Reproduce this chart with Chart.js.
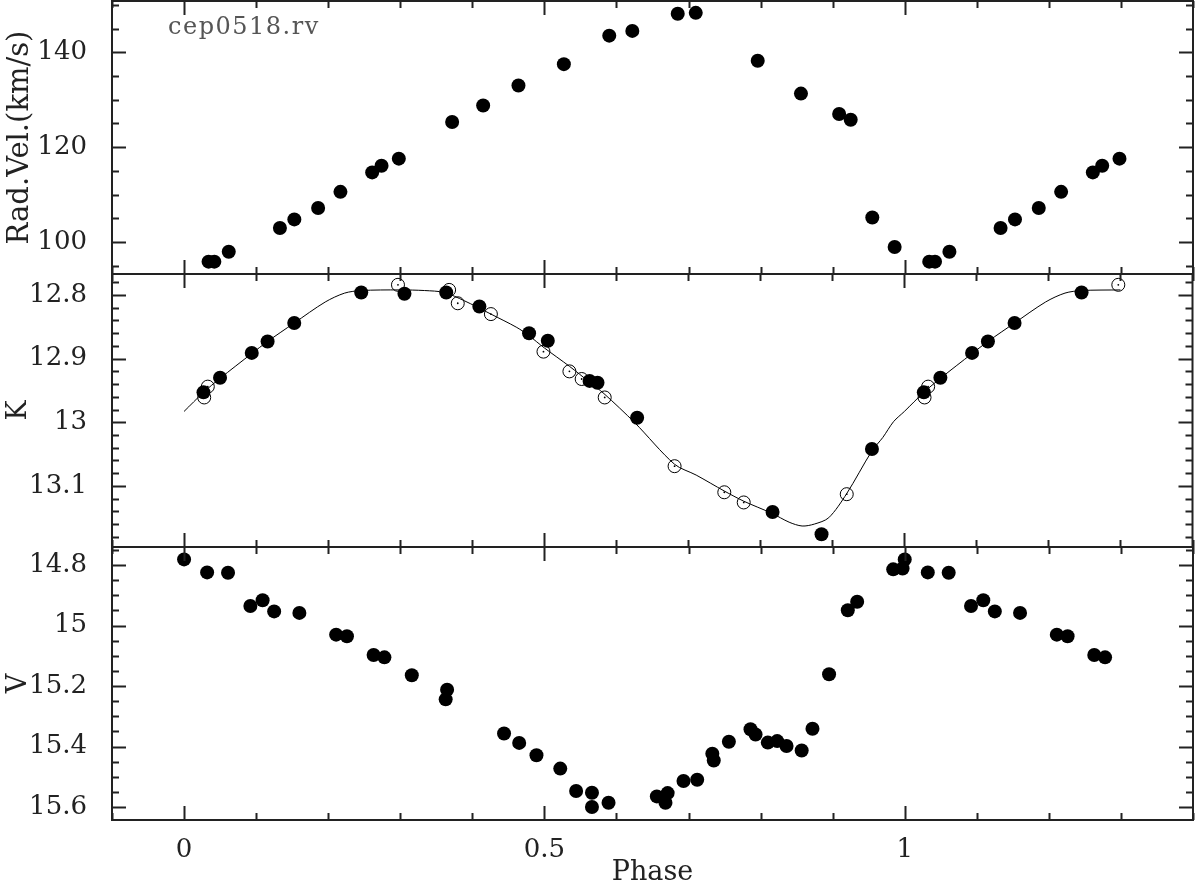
<!DOCTYPE html>
<html>
<head>
<meta charset="utf-8">
<script src="https://cdn.jsdelivr.net/npm/chart.js@4.4.1/dist/chart.umd.min.js"></script>
<style>
  body { margin: 0; background: #fff; }
  #wrap { position: relative; width: 1200px; height: 881px; overflow: hidden; }
  #wrap canvas { position: absolute; left: 0; top: 0; }
  #wrap #rvChart { top: -20px; }
</style>
</head>
<body>
<div id="wrap">
  <canvas id="rvChart" width="1200" height="881"></canvas>
  <canvas id="kChart" width="1200" height="881"></canvas>
  <canvas id="vChart" width="1200" height="881"></canvas>
</div>
<script>
// radial velocity (km/s)
const rvPhase = [0.034, 0.042, 0.062, 0.133, 0.153, 0.186, 0.217, 0.261, 0.274, 0.298,
  0.372, 0.415, 0.464, 0.527, 0.590, 0.622, 0.685, 0.710, 0.796, 0.856, 0.909, 0.925, 0.955, 0.986];
const rvValue = [95.9, 95.9, 98.0, 103.0, 104.8, 107.2, 110.6, 114.7, 116.1, 117.6,
  125.3, 128.8, 133.0, 137.5, 143.5, 144.5, 148.1, 148.3, 138.2, 131.3, 127.0, 125.8, 105.2, 99.0];

// K band, filled points
const kPhase = [0.027, 0.050, 0.094, 0.116, 0.153, 0.246, 0.306, 0.364, 0.410, 0.479,
  0.505, 0.563, 0.574, 0.629, 0.817, 0.885, 0.955];
const kValue = [12.953, 12.930, 12.891, 12.873, 12.844, 12.796, 12.798, 12.796, 12.818, 12.860,
  12.872, 12.935, 12.938, 12.993, 13.141, 13.176, 13.042];

// K band, open points
const kOpenPhase = [0.028, 0.033, 0.297, 0.368, 0.380, 0.426, 0.499, 0.535, 0.552, 0.584,
  0.681, 0.750, 0.777, 0.920];
const kOpenValue = [12.961, 12.944, 12.784, 12.792, 12.813, 12.830, 12.889, 12.920, 12.932, 12.961,
  13.069, 13.110, 13.126, 13.113];

// K band template curve
const kFitPhase = [0.000, 0.027, 0.050, 0.094, 0.116, 0.153, 0.196, 0.223, 0.246, 0.300,
  0.334, 0.361, 0.389, 0.426, 0.462, 0.479, 0.500, 0.535, 0.563, 0.583, 0.626, 0.681, 0.711,
  0.750, 0.777, 0.816, 0.840, 0.858, 0.875, 0.895, 0.920, 0.955, 0.970, 0.985];
const kFitValue = [12.983, 12.953, 12.931, 12.892, 12.873, 12.844, 12.811, 12.797, 12.793, 12.792,
  12.793, 12.796, 12.809, 12.830, 12.851, 12.864, 12.883, 12.912, 12.937, 12.955, 13.001, 13.066, 13.083,
  13.108, 13.124, 13.143, 13.157, 13.163, 13.160, 13.150, 13.112, 13.045, 13.024, 12.999];

// V band
const vPhase = [0.000, 0.032, 0.061, 0.092, 0.109, 0.125, 0.160, 0.211, 0.226, 0.263, 0.278,
  0.316, 0.363, 0.365, 0.444, 0.465, 0.489, 0.522, 0.544, 0.566, 0.566, 0.589, 0.656, 0.668,
  0.671, 0.693, 0.712, 0.733, 0.735, 0.756, 0.786, 0.793, 0.810, 0.823, 0.836, 0.857, 0.872,
  0.895, 0.921, 0.934, 0.984, 0.997];
const vValue = [14.781, 14.824, 14.825, 14.935, 14.916, 14.953, 14.958, 15.030, 15.035, 15.097, 15.105,
  15.164, 15.244, 15.212, 15.357, 15.388, 15.429, 15.473, 15.547, 15.553, 15.600, 15.586, 15.565, 15.586,
  15.554, 15.514, 15.510, 15.424, 15.446, 15.384, 15.343, 15.360, 15.387, 15.382, 15.398, 15.413, 15.341,
  15.161, 14.949, 14.921, 14.814, 14.811];

// tick labels
const phaseTicks = [0, 0.5, 1];
const rvTicks = [100, 120, 140];
const kTicks = [12.8, 12.9, 13, 13.1];
const vTicks = [14.8, 15, 15.2, 15.4, 15.6];

// points up to this phase are plotted again one cycle later
const wrapMax = 0.3;

function fold(ph, val) {
  const pts = ph.map((p, i) => ({ x: p, y: val[i] }));
  ph.forEach((p, i) => { if (p <= wrapMax + 1e-9) pts.push({ x: p + 1, y: val[i] }); });
  return pts.sort((a, b) => a.x - b.x);
}

function steps(from, to, step) {
  const out = [];
  for (let v = from; v <= to + step / 2; v += step) out.push(Math.round(v * 1000) / 1000);
  return out;
}

const INK = '#222';
const tickFont = { family: 'DejaVu Serif', size: 26 };
const titleFont = { family: 'DejaVu Serif', size: 27 };

function frame(yMinor) {
  return {
    id: 'frame',
    afterDraw(chart) {
      const { ctx, chartArea: a, scales } = chart;
      const sx = scales.x, sy = scales.y;
      ctx.save();
      ctx.strokeStyle = INK;
      ctx.lineWidth = 2;
      ctx.strokeRect(a.left, a.top, a.right - a.left, a.bottom - a.top);
      ctx.beginPath();
      steps(-0.1, 1.4, 0.1).forEach(v => {
        const px = Math.round(sx.getPixelForValue(v)) + 0.5;
        const len = phaseTicks.includes(v) ? 14 : 7;
        ctx.moveTo(px, a.top); ctx.lineTo(px, a.top + len);
        ctx.moveTo(px, a.bottom); ctx.lineTo(px, a.bottom - len);
      });
      const ymaj = sy.ticks.map(t => t.value);
      yMinor.forEach(v => {
        const py = Math.round(sy.getPixelForValue(v)) + 0.5;
        if (py < a.top || py > a.bottom) return;
        const len = ymaj.some(m => Math.abs(m - v) < 1e-6) ? 14 : 7;
        ctx.moveTo(a.left, py); ctx.lineTo(a.left + len, py);
        ctx.moveTo(a.right, py); ctx.lineTo(a.right - len, py);
      });
      ctx.stroke();
      ctx.restore();
    }
  };
}

// the rv canvas sits 20px higher, so the label is drawn 20px lower on it
const label = {
  id: 'label',
  afterDraw(chart) {
    const ctx = chart.ctx;
    ctx.save();
    ctx.font = '24px "DejaVu Serif"';
    ctx.fillStyle = '#555';
    ctx.textBaseline = 'alphabetic';
    if (ctx.letterSpacing !== undefined) ctx.letterSpacing = '1.5px';
    ctx.fillText('cep0518.rv', 168, 54);
    ctx.restore();
  }
};

function filled(data) {
  return { data, order: 0, pointRadius: 7, pointBackgroundColor: '#000', pointBorderWidth: 0 };
}
function open(data) {
  return { data, order: 1, pointRadius: 6.5, pointBackgroundColor: 'rgba(0,0,0,0)',
    pointBorderColor: '#000', pointBorderWidth: 1 };
}
function dots(data) {
  return { data, order: 2, pointRadius: 0.9, pointBackgroundColor: '#000', pointBorderWidth: 0 };
}

function panel(id, cfg) {
  return new Chart(document.getElementById(id), {
    type: 'scatter',
    data: { datasets: cfg.datasets },
    options: {
      responsive: false,
      animation: false,
      events: [],
      layout: { padding: cfg.padding },
      plugins: { legend: { display: false }, tooltip: { enabled: false } },
      scales: {
        x: {
          type: 'linear', min: -0.1, max: 1.4, display: cfg.showX,
          grid: { display: false }, border: { display: false },
          afterBuildTicks: s => { s.ticks = phaseTicks.map(v => ({ value: v })); },
          afterFit: s => {
            s.height = cfg.showX ? 61 : 0;
            s.paddingLeft = 0; s.paddingRight = 0;
          },
          ticks: { padding: 7, font: tickFont, color: INK, autoSkip: false, maxRotation: 0,
            callback: v => String(v) },
          title: { display: true, text: 'Phase', color: INK, padding: 0,
            font: Object.assign({ lineHeight: 0.6 }, titleFont) }
        },
        y: {
          type: 'linear', min: cfg.min, max: cfg.max, reverse: cfg.reverse,
          grid: { display: false }, border: { display: false },
          afterBuildTicks: s => { s.ticks = cfg.ticks.map(v => ({ value: v })); },
          afterFit: s => {
            s.width = 112;
            s.paddingTop = 0; s.paddingBottom = 0;
          },
          ticks: { padding: 17, font: tickFont, color: INK, callback: v => String(v) },
          title: { display: true, text: cfg.title, color: INK, padding: { top: 3, bottom: 0 },
            font: Object.assign({ size: cfg.titleSize || 27 }, { family: titleFont.family }) }
        }
      }
    },
    plugins: [frame(cfg.minor)].concat(cfg.extra || [])
  });
}

panel('rvChart', {
  padding: { top: 21, bottom: 587, left: 0, right: 2 },
  showX: false, min: 93.3, max: 150.8, reverse: false,
  ticks: rvTicks, minor: steps(95, 150, 5), title: 'Rad.Vel.(km/s)', titleSize: 29,
  datasets: [filled(fold(rvPhase, rvValue))],
  extra: [label]
});

panel('kChart', {
  padding: { top: 274, bottom: 334, left: 0, right: 2 },
  showX: false, min: 12.767, max: 13.196, reverse: true,
  ticks: kTicks, minor: steps(12.78, 13.18, 0.02), title: 'K',
  datasets: [
    filled(fold(kPhase, kValue)),
    open(fold(kOpenPhase, kOpenValue)),
    dots(fold(kOpenPhase, kOpenValue)),
    { data: fold(kFitPhase, kFitValue), order: 3, showLine: true, pointRadius: 0,
      borderColor: '#000', borderWidth: 1, tension: 0.3 }
  ]
});

panel('vChart', {
  padding: { top: 547, bottom: 0, left: 0, right: 2 },
  showX: true, min: 14.74, max: 15.643, reverse: true,
  ticks: vTicks, minor: steps(14.75, 15.6, 0.05), title: 'V',
  datasets: [filled(fold(vPhase, vValue))]
});
</script>
</body>
</html>
